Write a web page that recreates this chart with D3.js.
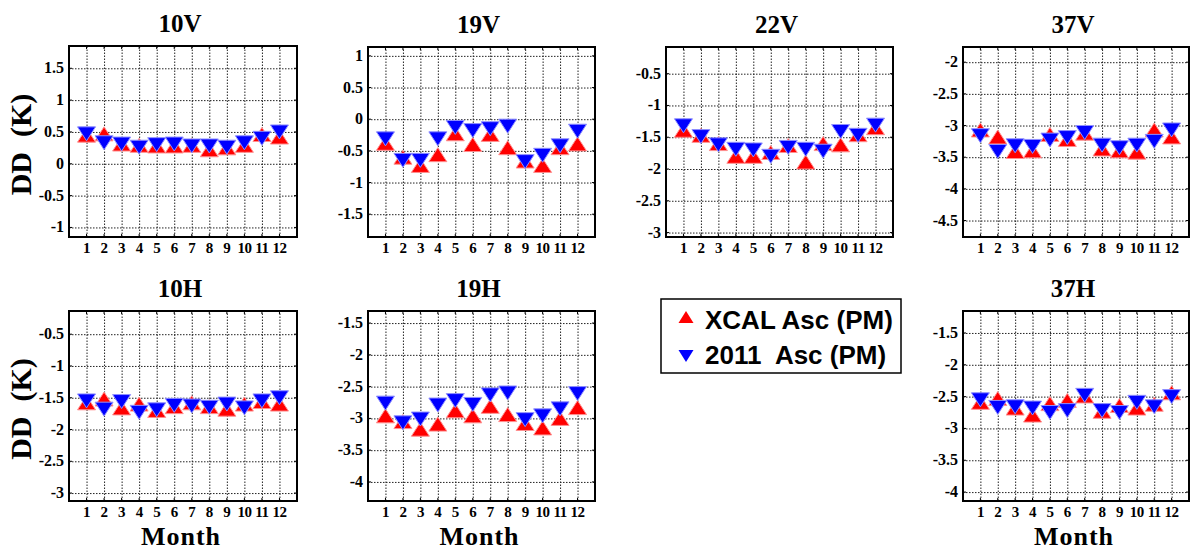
<!DOCTYPE html>
<html>
<head>
<meta charset="utf-8">
<script src="https://cdn.jsdelivr.net/npm/d3@7"></script>
<style>
  body { margin: 0; background: #fff; }
  svg { display: block; }
  text { font-family: "Liberation Serif", "Times New Roman", serif; font-weight: bold; fill: #000; }
  .legend text { font-family: "Liberation Sans", Arial, sans-serif; white-space: pre; }
</style>
</head>
<body>
<svg width="1191" height="550"></svg>
<script>
// months on the x axis
const months = [1, 2, 3, 4, 5, 6, 7, 8, 9, 10, 11, 12];

// XCAL Asc (PM) values per channel (red up triangles)
const xcal10V = [0.45, 0.47, 0.31, 0.29, 0.28, 0.28, 0.29, 0.22, 0.25, 0.29, 0.46, 0.42];
const xcal19V = [-0.38, -0.60, -0.73, -0.56, -0.23, -0.40, -0.24, -0.45, -0.66, -0.73, -0.45, -0.39];
const xcal22V = [-1.39, -1.47, -1.60, -1.80, -1.80, -1.74, -1.63, -1.89, -1.60, -1.62, -1.46, -1.35];
const xcal37V = [-3.07, -3.18, -3.41, -3.40, -3.14, -3.22, -3.12, -3.37, -3.40, -3.42, -3.07, -3.18];
const xcal10H = [-1.58, -1.52, -1.66, -1.60, -1.70, -1.64, -1.58, -1.64, -1.68, -1.60, -1.56, -1.60];
const xcal19H = [-2.96, -3.05, -3.17, -3.09, -2.88, -2.96, -2.81, -2.94, -3.08, -3.15, -3.00, -2.83];
const xcal37H = [-2.59, -2.53, -2.68, -2.79, -2.61, -2.56, -2.49, -2.73, -2.64, -2.68, -2.62, -2.44];

// 2011 Asc (PM) values per channel (blue down triangles)
const y2011_10V = [0.47, 0.33, 0.31, 0.26, 0.30, 0.31, 0.28, 0.28, 0.26, 0.33, 0.40, 0.50];
const y2011_19V = [-0.31, -0.65, -0.65, -0.31, -0.13, -0.18, -0.15, -0.11, -0.67, -0.57, -0.42, -0.19];
const y2011_22V = [-1.32, -1.49, -1.62, -1.69, -1.70, -1.80, -1.66, -1.69, -1.72, -1.41, -1.47, -1.31];
const y2011_37V = [-3.16, -3.41, -3.32, -3.33, -3.23, -3.19, -3.11, -3.31, -3.35, -3.31, -3.25, -3.07];
const y2011_10H = [-1.55, -1.68, -1.56, -1.73, -1.69, -1.62, -1.63, -1.65, -1.60, -1.66, -1.55, -1.50];
const y2011_19H = [-2.76, -3.07, -3.01, -2.79, -2.72, -2.78, -2.63, -2.60, -3.02, -2.96, -2.85, -2.61];
const y2011_37H = [-2.55, -2.67, -2.66, -2.68, -2.75, -2.72, -2.48, -2.72, -2.75, -2.59, -2.66, -2.50];

// y tick labels per panel
const ticks10V = [-1, -0.5, 0, 0.5, 1, 1.5];
const ticks19V = [-1.5, -1, -0.5, 0, 0.5, 1];
const ticks22V = [-3, -2.5, -2, -1.5, -1, -0.5];
const ticks37V = [-4.5, -4, -3.5, -3, -2.5, -2];
const ticks10H = [-3, -2.5, -2, -1.5, -1, -0.5];
const ticks19H = [-4, -3.5, -3, -2.5, -2, -1.5];
const ticks37H = [-4, -3.5, -3, -2.5, -2, -1.5];

const legendLabels = ['XCAL Asc (PM)', '2011  Asc (PM)'];

(function () {
  const svg = d3.select('svg');
  const serif = '"Liberation Serif", "Times New Roman", serif';

  // panel boxes and y ranges
  const panels = [
    {name: '10V', x0: 69, x1: 297, y0: 46, y1: 237, dom: [-1.15, 1.85], ticks: ticks10V, red: xcal10V, blue: y2011_10V, ylab: true},
    {name: '19V', x0: 368, x1: 595, y0: 47, y1: 237, dom: [-1.86, 1.14], ticks: ticks19V, red: xcal19V, blue: y2011_19V},
    {name: '22V', x0: 666, x1: 893, y0: 47, y1: 237, dom: [-3.07, -0.08], ticks: ticks22V, red: xcal22V, blue: y2011_22V},
    {name: '37V', x0: 963, x1: 1189, y0: 47, y1: 237, dom: [-4.76, -1.76], ticks: ticks37V, red: xcal37V, blue: y2011_37V},
    {name: '10H', x0: 69, x1: 297, y0: 311, y1: 501, dom: [-3.125, -0.135], ticks: ticks10H, red: xcal10H, blue: y2011_10H, ylab: true, xlab: true},
    {name: '19H', x0: 368, x1: 595, y0: 311, y1: 501, dom: [-4.3, -1.31], ticks: ticks19H, red: xcal19H, blue: y2011_19H, xlab: true},
    {name: '37H', x0: 963, x1: 1189, y0: 311, y1: 501, dom: [-4.14, -1.155], ticks: ticks37H, red: xcal37H, blue: y2011_37H, xlab: true}
  ];

  // triangle marker paths, centered on the point
  const tw = 18, th = 14;
  const upTri = `M0,${-th / 2}L${tw / 2},${th / 2}L${-tw / 2},${th / 2}Z`;
  const downTri = `M0,${th / 2}L${tw / 2},${-th / 2}L${-tw / 2},${-th / 2}Z`;

  panels.forEach(p => {
    const x = d3.scaleLinear().domain([0, 13]).range([p.x0, p.x1]);
    const y = d3.scaleLinear().domain(p.dom).range([p.y1, p.y0]);
    const w = p.x1 - p.x0, h = p.y1 - p.y0;
    const g = svg.append('g');

    // dotted grid
    g.append('g')
      .attr('transform', `translate(0,${p.y1})`)
      .call(d3.axisBottom(x).tickValues(months).tickSize(-h).tickFormat(''))
      .call(a => a.select('.domain').remove())
      .call(a => a.selectAll('line').attr('stroke', '#222').attr('stroke-dasharray', '1.5,1.5'));
    g.append('g')
      .attr('transform', `translate(${p.x0},0)`)
      .call(d3.axisLeft(y).tickValues(p.ticks).tickSize(-w).tickFormat(''))
      .call(a => a.select('.domain').remove())
      .call(a => a.selectAll('line').attr('stroke', '#222').attr('stroke-dasharray', '1.5,1.5'));

    // small inner ticks on the frame
    [p.y1, p.y0].forEach((yy, i) => {
      g.selectAll(null).data(months).enter().append('line')
        .attr('x1', d => x(d)).attr('x2', d => x(d))
        .attr('y1', yy).attr('y2', i ? yy + 3 : yy - 3)
        .attr('stroke', '#000').attr('stroke-width', 1);
    });
    [p.x0, p.x1].forEach((xx, i) => {
      g.selectAll(null).data(p.ticks).enter().append('line')
        .attr('y1', d => y(d)).attr('y2', d => y(d))
        .attr('x1', xx).attr('x2', i ? xx - 3 : xx + 3)
        .attr('stroke', '#000').attr('stroke-width', 1);
    });

    // y tick labels
    g.selectAll(null).data(p.ticks).enter().append('text')
      .attr('x', p.x0 - 5).attr('y', d => y(d) + 5)
      .attr('text-anchor', 'end').attr('font-size', 16)
      .attr('font-family', serif).attr('font-weight', 'bold')
      .text(d => String(d));

    // x tick labels
    g.selectAll(null).data(months).enter().append('text')
      .attr('x', d => x(d)).attr('y', p.y1 + 16)
      .attr('text-anchor', 'middle').attr('font-size', 15)
      .attr('font-family', serif).attr('font-weight', 'bold')
      .attr('letter-spacing', -0.5)
      .text(d => d);

    // markers: red first, blue on top
    g.selectAll(null).data(p.red).enter().append('path')
      .attr('d', upTri)
      .attr('transform', (d, i) => `translate(${x(months[i])},${y(d)})`)
      .attr('fill', '#ff0000').attr('stroke', '#ff9090').attr('stroke-width', 1);
    g.selectAll(null).data(p.blue).enter().append('path')
      .attr('d', downTri)
      .attr('transform', (d, i) => `translate(${x(months[i])},${y(d)})`)
      .attr('fill', '#0000ff').attr('stroke', '#8f8fff').attr('stroke-width', 1);

    // frame
    g.append('rect')
      .attr('x', p.x0).attr('y', p.y0).attr('width', w).attr('height', h)
      .attr('fill', 'none').attr('stroke', '#000').attr('stroke-width', 2);

    // title
    g.append('text')
      .attr('x', (p.x0 + p.x1) / 2 - 3).attr('y', p.y0 - 14)
      .attr('text-anchor', 'middle').attr('font-size', 25)
      .text(p.name);

    if (p.ylab) {
      g.append('text')
        .attr('transform', `translate(31,${(p.y0 + p.y1) / 2 + 3}) rotate(-90)`)
        .attr('text-anchor', 'middle').attr('font-size', 30)
        .style('white-space', 'pre')
        .text('DD  (K)');
    }
    if (p.xlab) {
      g.append('text')
        .attr('x', (p.x0 + p.x1) / 2 - 2).attr('y', 544.5)
        .attr('text-anchor', 'middle').attr('font-size', 26)
        .attr('letter-spacing', 1)
        .text('Month');
    }
  });

  // legend
  const lg = svg.append('g').attr('class', 'legend');
  lg.append('rect')
    .attr('x', 661).attr('y', 299).attr('width', 240).attr('height', 74)
    .attr('fill', '#fff').attr('stroke', '#000').attr('stroke-width', 1.5);
  const lw = 15, lh = 12;
  lg.append('path')
    .attr('d', `M0,${-lh / 2}L${lw / 2},${lh / 2}L${-lw / 2},${lh / 2}Z`)
    .attr('transform', 'translate(686,317)').attr('fill', '#ff0000');
  lg.append('path')
    .attr('d', `M0,${lh / 2}L${lw / 2},${-lh / 2}L${-lw / 2},${-lh / 2}Z`)
    .attr('transform', 'translate(686,356)').attr('fill', '#0000ff');
  lg.selectAll(null).data(legendLabels).enter().append('text')
    .attr('x', 705).attr('y', (d, i) => i ? 364 : 329)
    .attr('font-size', 26)
    .text(d => d);
})();
</script>
</body>
</html>
